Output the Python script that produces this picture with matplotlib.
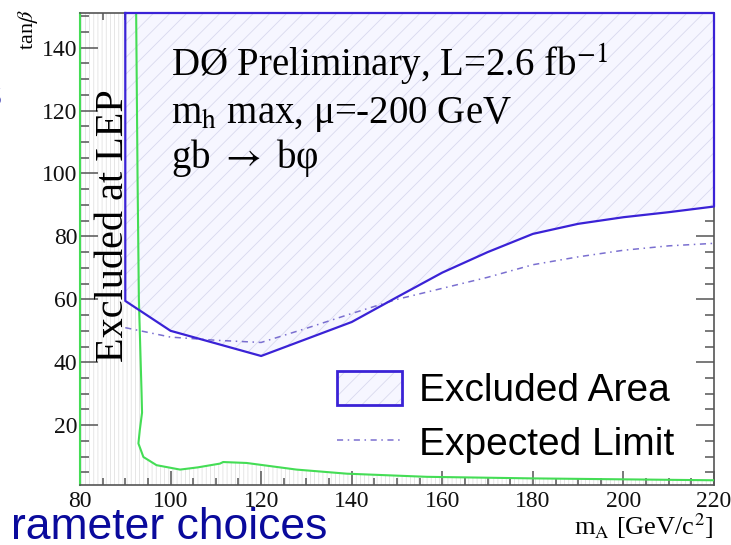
import matplotlib
matplotlib.use('Agg')
import matplotlib.pyplot as plt
from matplotlib.patches import Patch
from matplotlib.lines import Line2D
from matplotlib.legend_handler import HandlerTuple
from matplotlib.ticker import MultipleLocator

# observed limit: boundary of the excluded area
obs_mass = [90, 90, 100, 120, 140, 150, 160, 170, 180, 190, 200, 210, 220]
obs_tanb = [151, 59.5, 50.0, 42.0, 52.8, 60.7, 68.5, 75.0, 80.8, 84.0, 86.1, 87.7, 89.5]

# expected limit
exp_mass = [90, 100, 110, 120, 130, 140, 150, 160, 170, 180, 190, 200, 210, 220]
exp_tanb = [51, 48, 47, 46.3, 50.8, 55.5, 60, 63.5, 67, 71, 73.5, 75.6, 77, 77.8]

# LEP exclusion contour
lep_mass = [92.4, 92.7, 93.0, 93.6, 93.7, 93.2, 92.9, 94.0, 96.9, 102.1, 106,
            110.9, 111.6, 116.8, 127.8, 138.9, 156.6, 180, 200, 220]
lep_tanb = [151, 100, 60, 30, 24, 18.4, 14.2, 9.9, 7.3, 5.9, 6.6,
            7.8, 8.3, 8.0, 5.9, 4.6, 3.6, 3.1, 2.8, 2.5]

x_min, x_max = 80, 220
y_min, y_max = 1, 151

blue = '#3a22d6'
green = '#44dd55'
lavender = '#f6f6ff'
hatch_col = '#d9d9ee'
exp_col = '#7a6fd0'
navy = '#0a0a9c'

plt.rcParams['mathtext.fontset'] = 'stix'
plt.rcParams['hatch.linewidth'] = 0.6
serif = ['Liberation Serif', 'DejaVu Serif']
sans = 'Liberation Sans'

fig = plt.figure(figsize=(7.31, 5.45), dpi=100)
ax = fig.add_axes([80 / 731, 1 - 485 / 545, 634 / 731, 472 / 545])
ax.set_xlim(x_min, x_max)
ax.set_ylim(y_min, y_max)

# LEP excluded region (vertical hatch)
lep_x = [x_min] + lep_mass + [x_max, x_min]
lep_y = [y_max] + lep_tanb + [y_min, y_min]
ax.fill(lep_x, lep_y, facecolor='white', edgecolor='#e2e2e2', hatch='||||', lw=0, zorder=1)

# excluded area (diagonal hatch)
exc_x = obs_mass + [x_max]
exc_y = obs_tanb + [y_max]
ax.fill(exc_x, exc_y, facecolor=lavender, edgecolor=hatch_col, hatch='//', lw=0, zorder=2)

ax.plot(lep_mass, lep_tanb, color=green, lw=1.5, zorder=3)
ax.plot(exp_mass, exp_tanb, color=exp_col, lw=1.1, ls=(0, (4, 3, 1, 3)), zorder=3)
ax.plot(exc_x + [obs_mass[0]], exc_y + [obs_tanb[0]], color=blue, lw=1.6,
        zorder=4, clip_on=False)

ax.xaxis.set_major_locator(MultipleLocator(20))
ax.xaxis.set_minor_locator(MultipleLocator(5))
ax.yaxis.set_major_locator(MultipleLocator(20))
ax.yaxis.set_minor_locator(MultipleLocator(5))
ax.tick_params(which='both', direction='in', top=True, right=True,
               color='#555555', width=1.1, labelsize=17, labelcolor='#111111')
ax.tick_params(axis='x', which='major', length=10, pad=4)
ax.tick_params(axis='x', which='minor', length=5)
ax.tick_params(axis='y', which='major', length=13, pad=2)
ax.tick_params(axis='y', which='minor', length=6.5)
for lbl in ax.get_xticklabels() + ax.get_yticklabels():
    lbl.set_family(serif)
for side in ['top', 'right', 'bottom']:
    ax.spines[side].set_color('#555555')
    ax.spines[side].set_linewidth(1.2)
ax.spines['left'].set_color(green)
ax.spines['left'].set_linewidth(1.5)

# axis titles placed like the original slide
fig.text(713 / 731, 1 - 535 / 545, r'm$_{\rm A}$ [GeV/c$^2$]', ha='right', va='baseline',
         family=serif, fontsize=19)
fig.text(28 / 731, 1 - 30 / 545, r'tan$\beta$', rotation=90, ha='center', va='center',
         family=serif, fontsize=16)

ax.text(87.3, 83.5, 'Excluded at LEP', rotation=90, ha='center', va='center',
        family=serif, fontsize=29, zorder=5)
ax.text(100, 130.8, r'DØ Preliminary, L=2.6 fb$^{-1}$', family=serif, fontsize=28,
        va='baseline', zorder=5)
ax.text(100, 116.2, r'm$_{\rm h}$ max, μ=-200 GeV', family=serif, fontsize=28,
        va='baseline', zorder=5)
ax.text(100, 101.9, r'gb $\rightarrow$ bφ', family=serif, fontsize=28,
        va='baseline', zorder=5)

handles = [
    (Patch(facecolor=lavender, edgecolor=hatch_col, hatch='//', lw=0),
     Patch(facecolor='none', edgecolor=blue, lw=2)),
    Line2D([], [], color=exp_col, lw=1.1, ls=(0, (4, 3, 1, 3))),
]
ax.legend(handles, ['Excluded Area', 'Expected Limit'],
          handler_map={tuple: HandlerTuple(ndivide=1, pad=0)},
          loc='upper left', bbox_to_anchor=(337 / 731, 1 - 371 / 545),
          bbox_transform=fig.transFigure, frameon=False, borderpad=0,
          borderaxespad=0, handlelength=1.68, handleheight=0.98,
          handletextpad=0.42, labelspacing=0.38,
          prop={'family': sans, 'size': 28})

# fragments of the surrounding slide
fig.text(327 / 731, 1 - 539 / 545, 'rameter choices', ha='right', va='baseline',
         family=sans, fontsize=32, color=navy)
fig.text(2 / 731, 1 - 107 / 545, 's', ha='right', va='baseline',
         family=sans, fontsize=32, color=navy)

fig.savefig('out.png', dpi=100)
